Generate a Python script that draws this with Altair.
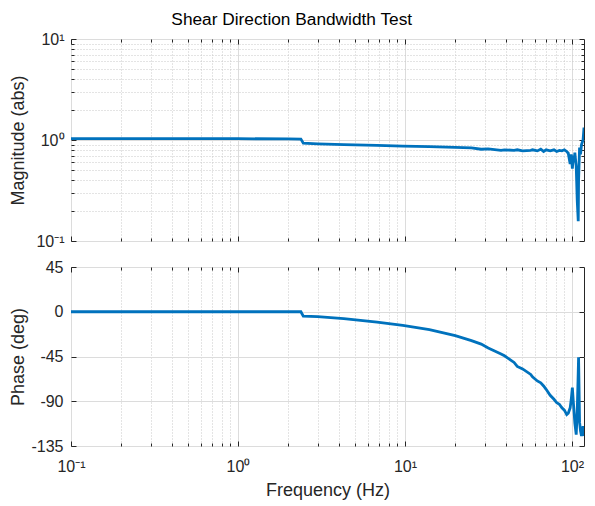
import json
import altair as alt
import pandas as pd

# ---------------- data ----------------
freq = [0.1, 0.3, 1.0, 2.0, 2.38, 2.46, 3.0, 4.3, 6.8, 9.7, 14, 20, 25, 28.6,
        31.5, 37.6, 39.4, 45, 47, 50.6, 56.6, 58, 62, 65, 67.6, 70, 74, 78,
        81, 84, 87, 90, 93, 95, 97.5, 99, 100.5, 102, 103, 104, 106, 107.5,
        109, 109.5, 111, 112.5, 114, 116.5, 118]
mag = [1.03, 1.03, 1.03, 1.025, 1.02, 0.93, 0.915, 0.90, 0.885, 0.87, 0.86,
       0.845, 0.835, 0.81, 0.815, 0.79, 0.80, 0.79, 0.80, 0.78, 0.79, 0.80,
       0.78, 0.81, 0.77, 0.80, 0.78, 0.80, 0.77, 0.79, 0.78, 0.80, 0.77, 0.74,
       0.58, 0.72, 0.52, 0.70, 0.60, 0.75, 0.55, 0.25, 0.157, 0.40, 0.84,
       0.72, 0.90, 1.0, 1.33]
phase = [0, 0, 0, 0, 0, -4.4, -5, -7, -10.4, -13.8, -17.9, -24, -29, -32.5,
         -36.5, -42.5, -44.3, -51, -55, -57.5, -63, -65.5, -69.6, -71.5, -74.6,
         -78, -84, -88, -91.5, -93, -96.6, -99, -103.4, -102, -96.6, -88,
         -76.3, -92, -101.6, -112, -123.6, -100, -60, -45.8, -111, -120,
         -125, -115, -125]

x_major = [0.1, 1, 10, 100]
x_minor = [0.2, 0.3, 0.4, 0.5, 0.6, 0.7, 0.8, 0.9, 2, 3, 4, 5, 6, 7, 8, 9,
           20, 30, 40, 50, 60, 70, 80, 90]
x_labels = ["10⁻¹", "10⁰", "10¹", "10²"]
mag_major = [0.1, 1, 10]
mag_minor = [0.2, 0.3, 0.4, 0.5, 0.6, 0.7, 0.8, 0.9, 2, 3, 4, 5, 6, 7, 8, 9]
mag_labels = ["10⁻¹", "10⁰", "10¹"]
phase_ticks = [-135, -90, -45, 0, 45]

title_text = "Shear Direction Bandwidth Test"
x_title = "Frequency  (Hz)"
mag_title = "Magnitude (abs)"
phase_title = "Phase (deg)"

df = pd.DataFrame({"freq": freq, "mag": mag, "phase": phase})

# ---------------- styling ----------------
FONT = "Liberation Sans"
BLUE = "#0072BD"
BOX = "#262626"
GRID_MAJ = "#dcdcdc"
GRID_MIN = "#c8c8c8"
W, H1, H2 = 513, 202, 179


def label_expr(vals, labels):
    expr = "''"
    for v, l in reversed(list(zip(vals, labels))):
        expr = f"datum.value == {v} ? '{l}' : ({expr})"
    return expr


def major_test(vals):
    return f"indexof({json.dumps(vals)}, datum.value) >= 0"


def grid_props(majors):
    t = major_test(majors)
    return dict(
        grid=True,
        gridWidth=1,
        gridColor={"condition": {"test": t, "value": GRID_MAJ}, "value": GRID_MIN},
        gridDash={"condition": {"test": t, "value": []}, "value": [1, 2]},
    )


xscale = alt.Scale(type="log", domain=[0.1, 118], nice=False)
mag_scale = alt.Scale(type="log", domain=[0.1, 10], nice=False)
phase_scale = alt.Scale(domain=[-135, 45], nice=False, zero=False)


def tick_axis(values, orient, size):
    return alt.Axis(values=values, orient=orient, offset=-size, tickSize=size,
                    ticks=True, tickColor=BOX, tickWidth=1, labels=False,
                    domain=False, grid=False, title=None)


def panel(yfield, yscale, ymain_axis, y_major_vals, y_minor_vals, h, show_x):
    xall = sorted(x_major + x_minor)
    if show_x:
        xmain = alt.Axis(values=xall, labelExpr=label_expr(x_major, x_labels),
                         ticks=False, domain=False, labelFlush=False,
                         labelOverlap=False, labelPadding=12, title=x_title,
                         titlePadding=7, **grid_props(x_major))
    else:
        xmain = alt.Axis(values=xall, labels=False, ticks=False, domain=False,
                         title=None, **grid_props(x_major))

    base = alt.Chart(df)

    main = base.mark_line(color=BLUE, strokeWidth=2.8, clip=True).encode(
        x=alt.X("freq:Q", scale=xscale, axis=xmain),
        y=alt.Y(f"{yfield}:Q", scale=yscale, axis=ymain_axis),
    )

    layers = [main]
    specs = [
        ("bottom", "left", x_major, y_major_vals, 5),
        ("top", "right", x_major, y_major_vals, 5),
        ("bottom", "left", x_minor, y_minor_vals, 3),
        ("top", "right", x_minor, y_minor_vals, 3),
    ]
    for xo, yo, xv, yv, s in specs:
        yax = tick_axis(yv, yo, s) if yv else None
        layers.append(
            base.mark_line(strokeOpacity=0).encode(
                x=alt.X("freq:Q", scale=xscale, axis=tick_axis(xv, xo, s)),
                y=alt.Y(f"{yfield}:Q", scale=yscale, axis=yax),
            )
        )
    return (alt.layer(*layers)
            .resolve_axis(x="independent", y="independent")
            .properties(width=W, height=h))


mag_axis = alt.Axis(values=sorted(mag_major + mag_minor),
                    labelExpr=label_expr(mag_major, mag_labels),
                    ticks=False, domain=False, labelPadding=7,
                    labelOverlap=False, title=mag_title, titleX=-44,
                    **grid_props(mag_major))
phase_axis = alt.Axis(values=phase_ticks, labelExpr="'' + datum.value",
                      ticks=False, domain=False, labelPadding=8,
                      labelOverlap=False, title=phase_title, titleX=-44,
                      grid=True, gridColor=GRID_MAJ, gridWidth=1)

top = panel("mag", mag_scale, mag_axis, mag_major, mag_minor, H1, False)
bottom = panel("phase", phase_scale, phase_axis, phase_ticks, [], H2, True)

chart = (
    alt.vconcat(top, bottom, spacing=26, bounds="flush")
    .properties(
        title=alt.TitleParams(title_text, fontSize=17.3, anchor="middle",
                              dx=-5, offset=2),
        padding={"left": 0, "top": 3, "right": 0, "bottom": 0},
    )
    .configure_view(stroke=BOX, strokeWidth=1)
    .configure_axis(labelFont=FONT, titleFont=FONT, labelFontSize=16,
                    titleFontSize=18, titleFontWeight="normal",
                    labelColor="#262626", titleColor="#262626")
    .configure_title(font=FONT, fontWeight="normal", color="#000000")
)

chart.save("out.html", embed_options={"renderer": "svg", "actions": False})
